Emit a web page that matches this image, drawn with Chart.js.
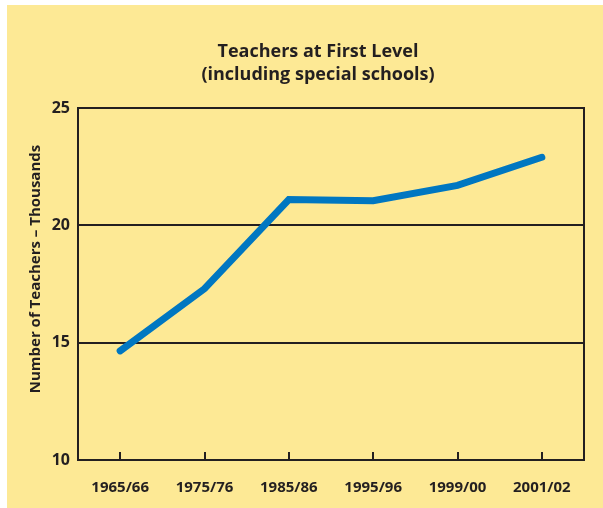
<!DOCTYPE html>
<html>
<head>
<meta charset="utf-8">
<script src="https://cdn.jsdelivr.net/npm/chart.js@4.4.1/dist/chart.umd.min.js"></script>
<style>
  html, body { margin: 0; padding: 0; background: #fff; }
  #wrap { width: 603px; height: 508px; position: relative; }
</style>
</head>
<body>
<div id="wrap"><canvas id="teachersChart"></canvas></div>
<script>
const years = ['1965/66', '1975/76', '1985/86', '1995/96', '1999/00', '2001/02'];
const teachers = [14.65, 17.3, 21.1, 21.05, 21.7, 22.9];
const titleLines = ['Teachers at First Level', '(including special schools)'];
const yTitle = 'Number of Teachers \u2013 Thousands';

const FONT = "'Open Sans', 'Noto Sans', sans-serif";
const INK = '#231f20';

// yellow panel, right border, inside ticks and the titles
const panel = {
    id: 'panel',
    beforeDraw(chart) {
        const ctx = chart.ctx;
        ctx.save();
        ctx.fillStyle = '#ffffff';
        ctx.fillRect(0, 0, chart.width, chart.height);
        ctx.fillStyle = '#fde995';
        ctx.fillRect(7, 5, chart.width - 7, chart.height - 5);
        ctx.restore();
    },
    afterDraw(chart) {
        const ctx = chart.ctx;
        const area = chart.chartArea;
        const x = chart.scales.x;
        ctx.save();
        ctx.strokeStyle = INK;
        ctx.lineWidth = 2;
        ctx.beginPath();
        ctx.moveTo(area.right, area.top - 1);
        ctx.lineTo(area.right, area.bottom + 1);
        x.ticks.forEach((t, i) => {
            const px = Math.round(x.getPixelForTick(i));
            ctx.moveTo(px, area.bottom);
            ctx.lineTo(px, area.bottom - 8);
        });
        ctx.stroke();

        ctx.fillStyle = INK;
        ctx.textAlign = 'center';
        ctx.textBaseline = 'alphabetic';
        ctx.font = 'bold 18px ' + FONT;
        ctx.fillText(titleLines[0], 318, 57);
        ctx.fillText(titleLines[1], 318, 80);

        ctx.translate(40, 269);
        ctx.rotate(-Math.PI / 2);
        ctx.font = 'bold 15px ' + FONT;
        ctx.fillText(yTitle, 0, 0);
        ctx.restore();
    }
};

const ctx = document.getElementById('teachersChart').getContext('2d');
new Chart(ctx, {
    type: 'line',
    data: {
        labels: years,
        datasets: [{
            data: teachers,
            borderColor: '#0077c1',
            borderWidth: 7,
            borderCapStyle: 'round',
            borderJoinStyle: 'miter',
            pointRadius: 0,
            tension: 0,
            fill: false
        }]
    },
    options: {
        responsive: true,
        maintainAspectRatio: false,
        animation: false,
        layout: {
            padding: { top: 108, right: 19, bottom: 0, left: 0 }
        },
        scales: {
            x: {
                offset: true,
                grid: { display: false },
                border: { display: true, color: INK, width: 2 },
                ticks: {
                    color: INK,
                    padding: 11,
                    maxRotation: 0,
                    font: { family: FONT, size: 15, weight: 'bold' }
                },
                afterFit(scale) { scale.height = 48; }
            },
            y: {
                min: 10,
                max: 25,
                grid: { color: INK, lineWidth: 2, drawTicks: false },
                border: { display: true, color: INK, width: 2 },
                ticks: {
                    stepSize: 5,
                    color: INK,
                    padding: 8,
                    font: { family: FONT, size: 16, weight: 'bold' }
                },
                afterFit(scale) { scale.width = 78; }
            }
        },
        plugins: {
            legend: { display: false },
            title: { display: false },
            tooltip: { enabled: false }
        }
    },
    plugins: [panel]
});
</script>
</body>
</html>
